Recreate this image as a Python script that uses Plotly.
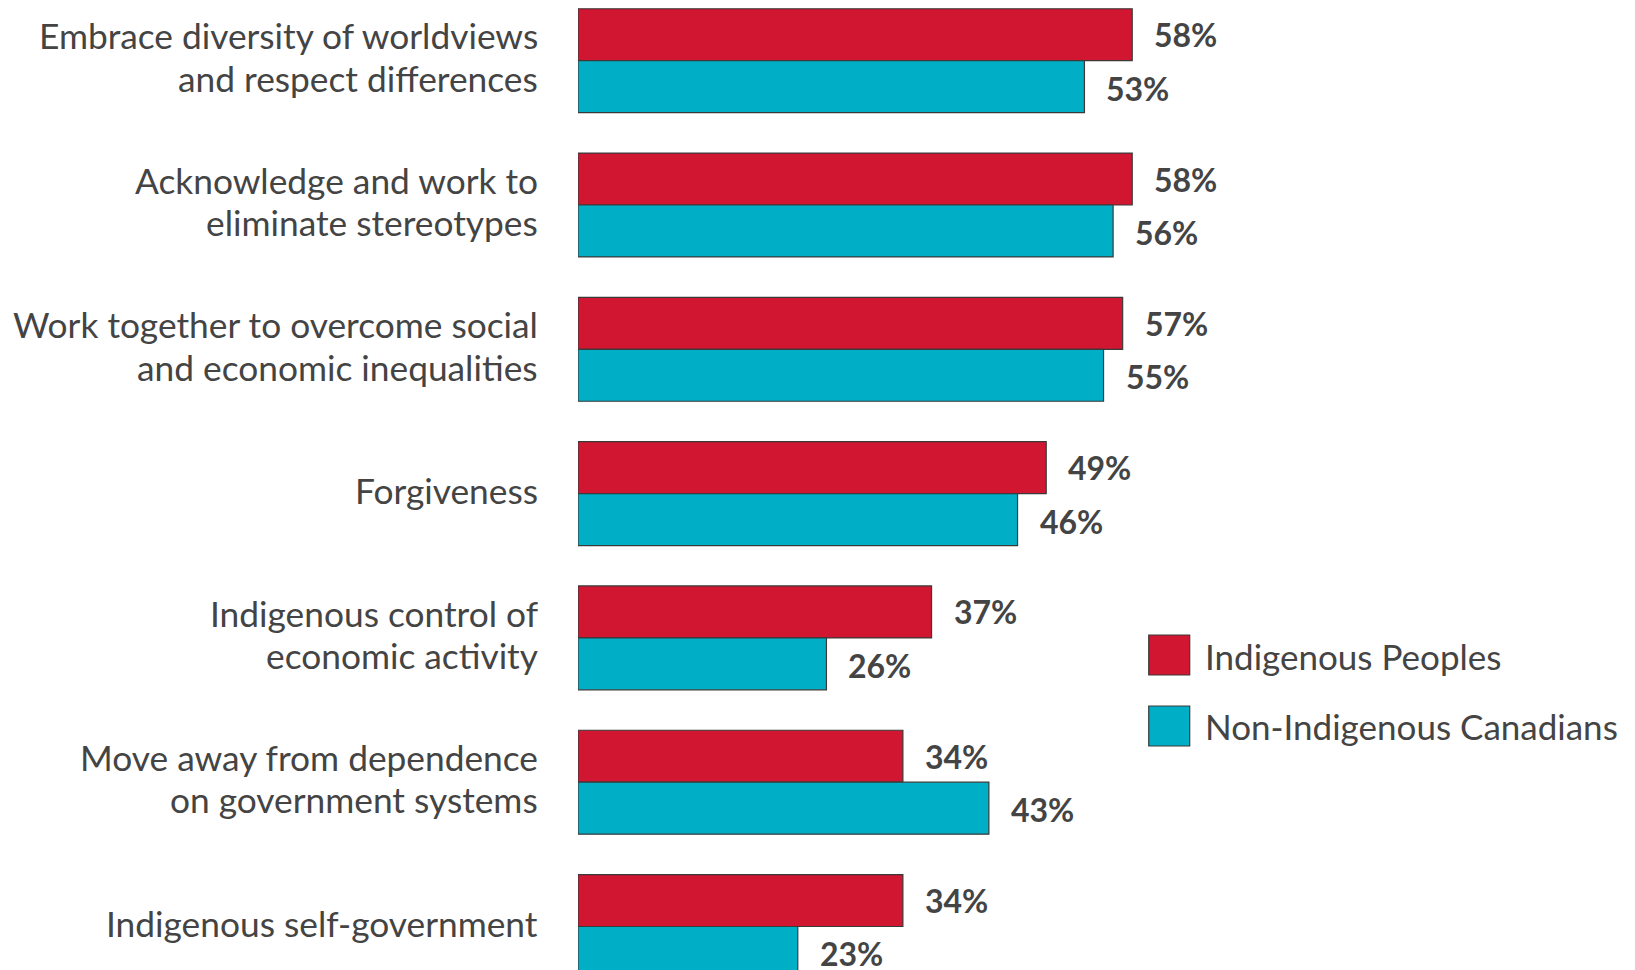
import plotly.graph_objects as go

categories = [
    "Embrace diversity of worldviews<br>and respect differences",
    "Acknowledge and work to<br>eliminate stereotypes",
    "Work together to overcome social<br>and economic inequalities",
    "Forgiveness",
    "Indigenous control of<br>economic activity",
    "Move away from dependence<br>on government systems",
    "Indigenous self-government",
]
indigenous = [58, 58, 57, 49, 37, 34, 34]
non_indigenous = [53, 56, 55, 46, 26, 43, 23]
series_names = ["Indigenous Peoples", "Non-Indigenous Canadians"]

RED = "#D01631"
TEAL = "#00AEC6"
EDGE = "#3a3a3a"
TEXT = "#444444"
FONT = "Lato"

W, H = 1635, 970
ML = 577.5
BARGAP = 0.28
PX_PER_UNIT = 144.3
first_center = 60.7

fig = go.Figure()
for name, vals, col in [(series_names[0], indigenous, RED), (series_names[1], non_indigenous, TEAL)]:
    fig.add_trace(go.Bar(
        y=categories, x=vals, orientation="h", name=name,
        marker=dict(color=col, line=dict(color=EDGE, width=1.2)),
        showlegend=False, hoverinfo="x+y",
    ))

# y range so that categories sit on a fixed pixel pitch
y_top = -first_center / PX_PER_UNIT
y_bot = (H - first_center) / PX_PER_UNIT
x_max = (W - ML) / 9.56

bar_h_px = (1 - BARGAP) / 2 * PX_PER_UNIT
annotations = []
line_px = 42.5
for cat in categories:
    lines = cat.split("<br>")
    n = len(lines)
    for i, ln in enumerate(lines):
        annotations.append(dict(
            x=0, xref="paper", y=cat, yref="y", text=ln, showarrow=False,
            xanchor="right", yanchor="middle", xshift=-38,
            yshift=((n - 1) / 2 - i) * line_px + 3.5,
            font=dict(family=FONT, size=35.3, color=TEXT),
        ))

for vals, sh in [(indigenous, bar_h_px / 2), (non_indigenous, -bar_h_px / 2 - 1.5)]:
    for cat, v in zip(categories, vals):
        annotations.append(dict(
            x=v, xref="x", y=cat, yref="y", text=f"<b>{v}%</b>", showarrow=False,
            xanchor="left", yanchor="middle", xshift=20, yshift=sh,
            font=dict(family=FONT, size=32, color=TEXT),
        ))

# legend drawn as swatches with labels
def px_x(p):
    return (p - ML) / (W - ML)

def px_y(p):
    return 1 - p / H

shapes = []
for (name, col), top, dy in zip([(series_names[0], RED), (series_names[1], TEAL)], [635, 706], [1, 0]):
    shapes.append(dict(type="rect", xref="paper", yref="paper",
                       x0=px_x(1148.5), x1=px_x(1189.5), y0=px_y(top + 40), y1=px_y(top),
                       fillcolor=col, line=dict(color=EDGE, width=1.2)))
    annotations.append(dict(x=px_x(1203), xref="paper", y=px_y(top + 20 + dy), yref="paper",
                            text=name, showarrow=False, xanchor="left", yanchor="middle",
                            font=dict(family=FONT, size=35, color=TEXT)))

fig.update_layout(
    width=W, height=H,
    margin=dict(l=ML, r=0, t=0, b=0),
    barmode="group", bargap=BARGAP, bargroupgap=0,
    plot_bgcolor="white", paper_bgcolor="white",
    xaxis=dict(range=[0, x_max], visible=False),
    yaxis=dict(range=[y_bot, y_top], showticklabels=False, showgrid=False,
               zeroline=False, showline=False, ticks=""),
    annotations=annotations, shapes=shapes,
    font=dict(family=FONT),
)

fig.write_html("out.html")
